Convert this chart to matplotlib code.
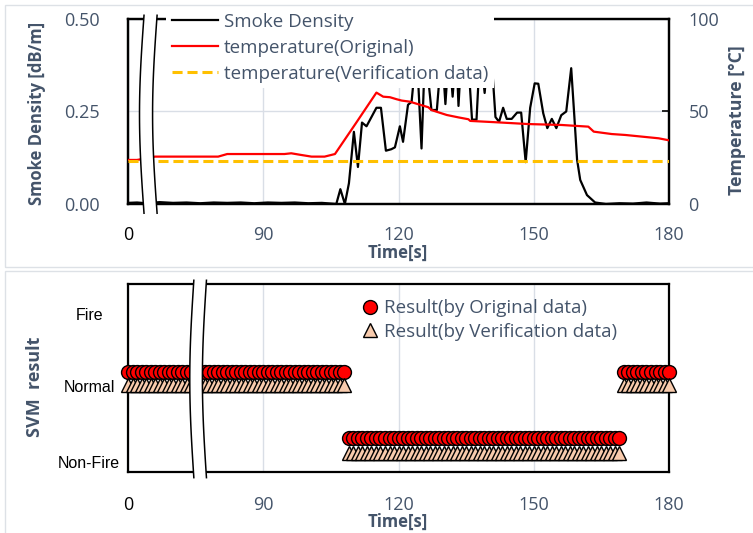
import numpy as np
import matplotlib
matplotlib.use('Agg')
import matplotlib.pyplot as plt
import matplotlib.transforms as mtransforms
from matplotlib.patches import Polygon, Rectangle
from matplotlib.lines import Line2D

plt.rcParams['font.family'] = ['Open Sans', 'DejaVu Sans']

TXT = '#44546A'
GRID = '#D9DEE6'

# ---- data (time axis is broken: the left end is labelled "0") ----
smoke_t = [60, 62, 64, 67, 70, 73, 76, 79, 82, 85, 88, 91, 94, 97, 100, 103, 106.2,
           107.1, 108.1, 109.0, 110.1, 111.0, 111.9, 112.9, 115.1, 116.1, 117.2,
           118.4, 119.2, 120.3, 121.0, 122.1, 122.9, 124.0, 125.1, 125.9, 127.3,
           128.5, 129.6, 130.4, 131.2, 132.0, 132.8, 133.3, 134.0, 135.3, 136.3,
           137.3, 138.1, 139.1, 139.8, 140.6, 141.5, 142.3, 143.2, 144.0, 145.1,
           146.3, 147.2, 148.2, 149.2, 150.2, 151.0, 152.1, 153.0, 154.0, 155.0,
           156.1, 157.2, 158.3, 159.0, 159.6, 160.3, 161.8, 163.6, 166, 169, 172,
           175, 178, 180]
smoke = [0.003, 0.004, 0.002, 0.005, 0.003, 0.004, 0.002, 0.004, 0.003, 0.004,
         0.002, 0.004, 0.003, 0.004, 0.002, 0.003, 0.0,
         0.04, 0.0, 0.056, 0.195, 0.10, 0.22, 0.21, 0.26, 0.26, 0.144,
         0.148, 0.153, 0.21, 0.168, 0.268, 0.276, 0.42, 0.15, 0.42, 0.254,
         0.254, 0.42, 0.27, 0.42, 0.29, 0.42, 0.265, 0.42, 0.42, 0.228,
         0.228, 0.42, 0.30, 0.40, 0.40, 0.235, 0.222, 0.26, 0.23, 0.23,
         0.247, 0.247, 0.113, 0.26, 0.326, 0.325, 0.245, 0.205, 0.23, 0.205,
         0.24, 0.25, 0.367, 0.236, 0.12, 0.065, 0.024, 0.004, 0.0, 0.002, 0.001,
         0.004, 0.001, 0.002]

temp_t = [60, 62, 66, 80, 82, 94.7, 96.2, 98.4, 100.7, 103.6, 105.9, 110.5,
          115.1, 116.6, 118.1, 119.6, 120.7, 122.5, 124.4, 126.6, 127.3, 128.4,
          130.7, 133.3, 135.5, 135.9, 141.4, 148.8, 156.2, 162.1, 163.3, 167.3,
          170.3, 177.7, 180]
temp_orig = [23.8, 23.8, 25.6, 25.6, 27.0, 27.0, 27.4, 26.5, 25.6, 25.6, 27.0, 43.5,
             60.2, 58.0, 57.7, 56.6, 55.9, 55.3, 53.9, 52.3, 50.8, 49.9,
             48.1, 46.8, 45.8, 44.9, 44.2, 43.2, 42.7, 41.8, 39.1, 37.8,
             37.3, 35.5, 34.4]

verif_t = [60, 90, 120, 150, 180]
temp_verif = [23.4, 23.4, 23.4, 23.4, 23.4]

svm_t = list(range(60, 181))
svm_orig = ['Normal'] * 49 + ['Non-Fire'] * 61 + ['Normal'] * 11
svm_verif = ['Normal'] * 49 + ['Non-Fire'] * 61 + ['Normal'] * 11

x_ticks = [60, 90, 120, 150, 180]
x_ticklabels = ['0', '90', '120', '150', '180']
classes = ['Non-Fire', 'Normal', 'Fire']

# plotting positions of the classes for each series
pos_tick = {'Non-Fire': 0.0, 'Normal': 1.03, 'Fire': 2.0}
pos_circle = {'Non-Fire': 0.32, 'Normal': 1.22}
pos_tri = {'Non-Fire': 0.12, 'Normal': 1.04}


def draw_break(ax, xc, y0, y1, gap, amp):
    tr = mtransforms.blended_transform_factory(ax.transData, ax.transAxes)
    ys = np.linspace(y0, y1, 80)
    s = (ys - y0) / (y1 - y0)
    wave = -amp * np.sin(np.pi * s)
    xl = xc - gap / 2 + wave
    xr = xc + gap / 2 + wave
    poly = Polygon(np.column_stack([np.r_[xl, xr[::-1]], np.r_[ys, ys[::-1]]]),
                   closed=True, transform=tr, fc='white', ec='none',
                   clip_on=False, zorder=20)
    ax.add_patch(poly)
    for xs in (xl, xr):
        ax.plot(xs, ys, color='black', lw=1.1, transform=tr, clip_on=False, zorder=21)


def style_spines(ax):
    for sp in ax.spines.values():
        sp.set_color('black')
        sp.set_linewidth(1.6)


def center_label(lab):
    lab.set_ha('center')
    lab.set_va('center')


fig = plt.figure(figsize=(7.53, 5.33), dpi=100)

# chart area frames
fig.add_artist(Rectangle((5 / 753, 1 - 267 / 533), 760 / 753, 262 / 533,
                         transform=fig.transFigure, fill=False, ec='#DDE1E6', lw=1))
fig.add_artist(Rectangle((5 / 753, -0.05), 760 / 753, 1 - 271 / 533 + 0.05,
                         transform=fig.transFigure, fill=False, ec='#DDE1E6', lw=1))

# ---------------- top panel ----------------
ax1 = fig.add_axes([0.170, 0.6173, 0.7185, 0.3471])
ax1.plot(smoke_t, smoke, color='black', lw=1.6, zorder=3)
ax1.set_xlim(60, 180)
ax1.set_ylim(0, 0.5)
ax1.set_yticks([0, 0.25, 0.5])
ax1.set_yticklabels(['0.00', '0.25', '0.50'])
ax1.set_xticks(x_ticks)
ax1.set_xticklabels(x_ticklabels)
ax1.grid(True, color=GRID, lw=1)
ax1.set_axisbelow(True)
ax1.tick_params(axis='both', length=0, labelsize=13, labelcolor=TXT)
ax1.tick_params(axis='x', pad=16)
ax1.tick_params(axis='y', pad=20)
ax1.get_xticklabels()[0].set_color('black')
ax1.set_ylabel('Smoke Density [dB/m]', fontsize=12, fontweight='bold', color=TXT)
center_label(ax1.yaxis.label)
ax1.yaxis.set_label_coords(-0.168, 0.49)
ax1.set_xlabel('Time[s]', fontsize=12, fontweight='bold', color=TXT)
center_label(ax1.xaxis.label)
ax1.xaxis.set_label_coords(0.499, -0.265)
style_spines(ax1)

ax2 = ax1.twinx()
ax2.plot(temp_t, temp_orig, color='#FF0000', lw=1.6, zorder=3)
ax2.plot(verif_t, temp_verif, color='#FFC000', lw=2.2, dashes=(3.3, 1.6), zorder=3)
ax2.set_ylim(0, 100)
ax2.set_yticks([0, 50, 100])
ax2.tick_params(axis='y', direction='in', length=5, width=1.2, labelsize=13,
                labelcolor=TXT, pad=14)
ax2.set_ylabel('Temperature [°C]', fontsize=12.8, fontweight='bold', color=TXT)
center_label(ax2.yaxis.label)
ax2.yaxis.set_label_coords(1.126, 0.454)
style_spines(ax2)

handles = [Line2D([], [], color='black', lw=1.6),
           Line2D([], [], color='#FF0000', lw=1.6),
           Line2D([], [], color='#FFC000', lw=2.2, dashes=(3.3, 1.6))]
leg = ax2.legend(handles, ['Smoke Density', 'temperature(Original)',
                           'temperature(Verification data)'],
                 loc='upper left', bbox_to_anchor=(0.07, 1.063), fontsize=13.5,
                 frameon=True, facecolor='white', edgecolor='none', framealpha=1,
                 fancybox=False, borderaxespad=0, borderpad=0.3,
                 handlelength=2.5, handletextpad=0.3, labelspacing=0.42)
for t in leg.get_texts():
    t.set_color(TXT)
leg.set_zorder(10)

draw_break(ax2, 65.0, -0.05, 1.02, 2.9, 1.0)

# ---------------- bottom panel ----------------
ax3 = fig.add_axes([0.170, 0.1144, 0.7185, 0.3527])
ax3.plot(svm_t, [pos_circle[c] for c in svm_orig], ls='none', marker='o', ms=10,
         mfc='#FF0000', mec='black', mew=1.0, clip_on=False, zorder=4)
ax3.plot(svm_t, [pos_tri[c] for c in svm_verif], ls='none', marker='^', ms=10.5,
         mfc='#F8CBAD', mec='black', mew=1.0, clip_on=False, zorder=5)
ax3.set_xlim(60, 180)
ax3.set_ylim(-0.135, 2.405)
ax3.set_xticks(x_ticks)
ax3.set_xticklabels(x_ticklabels)
ax3.set_yticks([pos_tick[c] for c in classes])
ax3.set_yticklabels(classes, fontfamily='Liberation Sans', fontsize=11.5, color='black',
                    ha='center')
ax3.tick_params(axis='y', length=0, pad=28)
ax3.tick_params(axis='x', length=0, labelsize=13, labelcolor=TXT, pad=17)
ax3.get_xticklabels()[0].set_color('black')
ax3.grid(True, axis='x', color=GRID, lw=1)
ax3.set_axisbelow(True)
ax3.set_ylabel('SVM  result', fontsize=13, fontweight='bold', color=TXT)
center_label(ax3.yaxis.label)
ax3.yaxis.set_label_coords(-0.171, 0.452)
ax3.set_xlabel('Time[s]', fontsize=12, fontweight='bold', color=TXT)
center_label(ax3.xaxis.label)
ax3.xaxis.set_label_coords(0.499, -0.265)
style_spines(ax3)

h_circ = Line2D([], [], ls='none', marker='o', ms=10, mfc='#FF0000', mec='black', mew=1.0)
h_tri = Line2D([], [], ls='none', marker='^', ms=10.5, mfc='#F8CBAD', mec='black', mew=1.0)
leg2 = ax3.legend([h_circ, h_tri], ['Result(by Original data)', 'Result(by Verification data)'],
                  loc='upper left', bbox_to_anchor=(0.43, 0.92), fontsize=13.5,
                  frameon=False, borderaxespad=0, borderpad=0,
                  handlelength=1.0, handletextpad=0.25, labelspacing=0.3)
for t in leg2.get_texts():
    t.set_color(TXT)

draw_break(ax3, 76.0, -0.03, 1.02, 2.8, 0.9)

fig.savefig('out.png', dpi=100)
